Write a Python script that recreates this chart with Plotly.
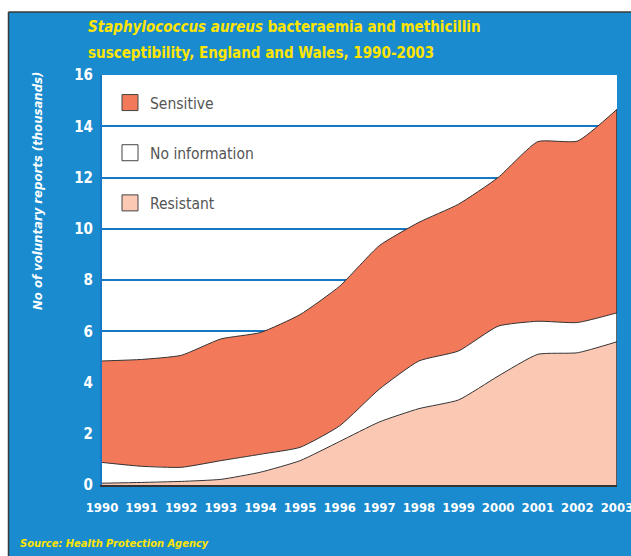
import plotly.graph_objects as go

years = list(range(1990, 2004))
resistant = [0.07, 0.10, 0.14, 0.22, 0.50, 0.95, 1.70, 2.46, 2.98, 3.32, 4.25, 5.10, 5.16, 5.59]
no_info = [0.81, 0.63, 0.55, 0.73, 0.70, 0.52, 0.61, 1.28, 1.86, 1.91, 1.95, 1.29, 1.18, 1.13]
sensitive = [3.96, 4.17, 4.37, 4.75, 4.75, 5.18, 5.45, 5.60, 5.41, 5.73, 5.80, 7.01, 7.08, 7.94]
series_names = ["Resistant", "No information", "Sensitive"]
series_colors = ["#FBC8B3", "#FFFFFF", "#F27A5B"]
y_ticks = [0, 2, 4, 6, 8, 10, 12, 14, 16]

BLUE = "#1A8BCE"
GRID = "#1677C4"
YELLOW = "#FFE500"
COND = "DejaVu Sans Condensed, Liberation Sans Narrow, Arial Narrow, sans-serif"

W, H = 631, 556
L, R, T, B = 102, 14, 75, 71
pw, ph = W - L - R, H - T - B

def px(x):
    return (x - L) / pw

def py(y):
    return (H - B - y) / ph

fig = go.Figure()
for name, vals, col in zip(series_names, [resistant, no_info, sensitive], series_colors):
    fig.add_trace(go.Scatter(
        x=years, y=vals, name=name, stackgroup="one", mode="lines",
        line=dict(color="#333333", width=1, shape="spline", smoothing=0.5),
        fillcolor=col, showlegend=False, hoverinfo="skip"))

# legend entries, top to bottom: Sensitive, No information, Resistant
for name, col in reversed(list(zip(series_names, series_colors))):
    fig.add_trace(go.Scatter(
        x=[None], y=[None], name=name, mode="markers", legendgroup=name,
        marker=dict(symbol="square", size=16, color=col, line=dict(color="#444444", width=1)),
        showlegend=True))

total = [a + b + c for a, b, c in zip(resistant, no_info, sensitive)]

shapes = [
    dict(type="rect", xref="paper", yref="paper", x0=px(0), x1=px(W + 5), y0=py(0), y1=py(12),
         fillcolor="white", line=dict(width=0), layer="below"),
    dict(type="rect", xref="paper", yref="paper", x0=px(0), x1=px(8.5), y0=py(0), y1=py(H),
         fillcolor="white", line=dict(width=0), layer="below"),
    dict(type="line", xref="paper", yref="paper", x0=px(8.5), x1=px(W + 5), y0=py(12), y1=py(12),
         line=dict(color="#3a3a3a", width=1.5)),
    dict(type="line", xref="paper", yref="paper", x0=px(8.5), x1=px(8.5), y0=py(12), y1=py(H),
         line=dict(color="#3a3a3a", width=1.5)),
    dict(type="line", xref="x", yref="y", x0=years[-1], x1=years[-1], y0=0, y1=total[-1],
         line=dict(color="#333333", width=1.5)),
]

title_font = dict(family=COND, size=15, color=YELLOW, weight="bold")
annotations = [
    dict(xref="paper", yref="paper", x=px(86), y=py(27), xanchor="left", yanchor="middle",
         text="<i>Staphylococcus aureus</i> bacteraemia and methicillin",
         showarrow=False, align="left", font=title_font),
    dict(xref="paper", yref="paper", x=px(86), y=py(53), xanchor="left", yanchor="middle",
         text="susceptibility, England and Wales, 1990-2003",
         showarrow=False, align="left", font=title_font),
    dict(xref="paper", yref="paper", x=px(37), y=py(191), xanchor="center", yanchor="middle",
         text="<i>No of voluntary reports (thousands)</i>", textangle=-90, showarrow=False,
         font=dict(family=COND, size=13, color="white", weight="bold")),
    dict(xref="paper", yref="paper", x=px(18), y=py(543), xanchor="left", yanchor="middle",
         text="<i>Source: Health Protection Agency</i>", showarrow=False,
         font=dict(family=COND, size=11, color=YELLOW, weight="bold")),
]

fig.update_layout(
    width=W, height=H,
    margin=dict(l=L, r=R, t=T, b=B, pad=0, autoexpand=False),
    paper_bgcolor=BLUE, plot_bgcolor="white",
    shapes=shapes, annotations=annotations,
    showlegend=True,
    legend=dict(x=px(110), y=py(86), xanchor="left", yanchor="top",
                bgcolor="rgba(0,0,0,0)", traceorder="grouped", tracegroupgap=27,
                font=dict(family=COND, size=15.5, color="#555555")),
    xaxis=dict(range=[1990, 2003], tickvals=years, ticktext=[str(y) for y in years],
               showgrid=False, zeroline=False, showline=True, linecolor="#333333", linewidth=2,
               tickfont=dict(family=COND, size=13, color="white", weight="bold"),
               ticks="outside", ticklen=9, tickcolor="rgba(0,0,0,0)",
               ticklabeloverflow="allow", automargin=False),
    yaxis=dict(range=[0, 16], tickvals=y_ticks, showgrid=True, gridcolor=GRID, gridwidth=2,
               zeroline=False, showline=True, linecolor=GRID, linewidth=2,
               tickfont=dict(family=COND, size=15, color="white", weight="bold"),
               ticks="outside", ticklen=4, tickcolor="rgba(0,0,0,0)", automargin=False),
)

fig.write_html("out.html")
